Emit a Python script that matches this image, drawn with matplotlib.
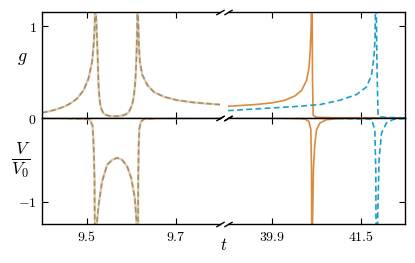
import matplotlib
matplotlib.use("Agg")
import matplotlib.pyplot as plt

plt.rcParams['mathtext.fontset'] = 'cm'
plt.rcParams['font.family'] = ['DejaVu Serif']

# ---------------- data ----------------
# left window: both series coincide
t_left_g = [9.400, 9.420, 9.4326, 9.450, 9.4627, 9.478, 9.4929, 9.504, 9.512, 9.5155,
            9.518, 9.5195, 9.5205, 9.5212, 9.5230, 9.5246, 9.5260, 9.5270, 9.5290, 9.5307,
            9.5340, 9.5380, 9.5450, 9.5530, 9.5685, 9.5830, 9.5900, 9.5948, 9.6020, 9.6055,
            9.6080, 9.6100, 9.6115, 9.6130, 9.6138, 9.6145, 9.6152, 9.6175, 9.6197, 9.6250,
            9.6365, 9.6510, 9.6740, 9.7040, 9.7420, 9.7800, 9.8000]
g_left = [0.058, 0.078, 0.095, 0.125, 0.157, 0.21, 0.30, 0.43, 0.61, 0.79,
          1.01, 1.6, 1.6, 1.10, 0.88, 0.68, 0.45, 0.32, 0.20, 0.14,
          0.085, 0.048, 0.030, 0.022, 0.019, 0.030, 0.045, 0.065, 0.14, 0.22,
          0.32, 0.45, 0.61, 0.85, 1.01, 1.6, 1.15, 0.79, 0.61, 0.47,
          0.357, 0.284, 0.23, 0.193, 0.168, 0.153, 0.146]

t_left_V = [9.400, 9.450, 9.490, 9.504, 9.508, 9.5133, 9.5155, 9.5175, 9.5190, 9.5205,
            9.5225, 9.5268, 9.5345, 9.5459, 9.5572, 9.5685, 9.5798, 9.5912, 9.6002, 9.6084,
            9.6125, 9.6140, 9.6150, 9.6160, 9.6170, 9.6185, 9.6220, 9.6290, 9.6600, 9.8000]
V_left = [-0.003, -0.005, -0.010, -0.015, -0.024, -0.10, -0.32, -0.72, -2.0, -2.0,
          -1.27, -1.04, -0.76, -0.56, -0.50, -0.476, -0.50, -0.58, -0.72, -0.96,
          -1.27, -2.0, -2.0, -0.72, -0.32, -0.125, -0.044, -0.012, -0.004, -0.001]

# right window: orange (solid) series
t_right_g_a = [39.10, 39.30, 39.588, 39.889, 40.129, 40.31, 40.431, 40.521, 40.562, 40.586,
               40.604, 40.615, 40.618, 40.628, 40.640, 40.70, 41.0, 42.3]
g_right_a = [0.128, 0.135, 0.146, 0.164, 0.193, 0.24, 0.30, 0.41, 0.54, 0.72,
             1.01, 1.6, 1.5, 0.40, 0.03, 0.008, 0.003, 0.001]
t_right_V_a = [39.10, 40.00, 40.40, 40.49, 40.562, 40.598, 40.610, 40.616, 40.622, 40.628,
               40.645, 40.671, 40.701, 40.761, 40.882, 41.12, 42.3]
V_right_a = [-0.001, -0.003, -0.008, -0.012, -0.04, -0.14, -0.62, -2.0, -2.0, -1.3,
             -0.6, -0.30, -0.14, -0.06, -0.02, -0.005, -0.001]

# right window: blue (dashed) series
t_right_g_b = [39.10, 39.50, 39.889, 40.40, 40.61, 40.761, 41.122, 41.423, 41.604, 41.694,
               41.736, 41.759, 41.772, 41.778, 41.795, 41.813, 41.85, 42.0, 42.3]
g_right_b = [0.080, 0.095, 0.109, 0.128, 0.139, 0.146, 0.193, 0.255, 0.338, 0.466,
             0.648, 0.866, 1.6, 1.3, 0.50, 0.03, 0.012, 0.005, 0.002]
t_right_V_b = [39.10, 41.00, 41.694, 41.754, 41.772, 41.781, 41.800, 41.803, 41.831, 41.875,
               41.965, 42.084, 42.3]
V_right_b = [-0.001, -0.004, -0.012, -0.14, -0.62, -2.0, -2.0, -1.3, -0.5, -0.18,
             -0.06, -0.017, -0.005]

xticks_left = [9.5, 9.7]
xticklabels_left = ['$9.5$', '$9.7$']
xticks_right = [39.9, 41.5]
xticklabels_right = ['$39.9$', '$41.5$']
yticks_g = [0, 1]
yticklabels_g = ['$0$', '$1$']
yticks_V = [-1]
yticklabels_V = ['$-1$']

xlim_left = (9.4, 9.8)
xlim_right = (39.1, 42.3)
ylim_g = (0, 1.156)
ylim_V = (-1.27, 0)

# ---------------- figure ----------------
W, H = 415, 263
fig = plt.figure(figsize=(W / 100, H / 100), dpi=100)

def frac(x0, y0, x1, y1):
    return [x0 / W, 1 - y1 / H, (x1 - x0) / W, (y1 - y0) / H]

axTL = fig.add_axes(frac(42.3, 11.7, 220, 118))
axTR = fig.add_axes(frac(228, 11.7, 405, 118))
axBL = fig.add_axes(frac(42.3, 118, 220, 224.3))
axBR = fig.add_axes(frac(228, 118, 405, 224.3))

c_or = '#dc8a3e'
c_bl = '#1a9fc8'
c_peach = '#f4c79e'
c_gg = '#889680'

axTL.plot(t_left_g, g_left, color=c_peach, lw=1.7, solid_joinstyle='round')
axTL.plot(t_left_g, g_left, color=c_gg, lw=1.1, ls=(0, (3.5, 2)))
axBL.plot(t_left_V, V_left, color=c_peach, lw=1.7)
axBL.plot(t_left_V, V_left, color=c_gg, lw=1.1, ls=(0, (3.5, 2)))

axTR.plot(t_right_g_a, g_right_a, color=c_or, lw=1.2)
axTR.plot(t_right_g_b, g_right_b, color=c_bl, lw=1.2, ls=(0, (3.5, 2)))
axBR.plot(t_right_V_a, V_right_a, color=c_or, lw=1.2)
axBR.plot(t_right_V_b, V_right_b, color=c_bl, lw=1.2, ls=(0, (3.5, 2)))

for ax in (axTL, axBL):
    ax.set_xlim(*xlim_left)
    ax.spines['right'].set_visible(False)
    ax.set_xticks(xticks_left)
    ax.tick_params(direction='in', length=4, width=0.8, top=True, bottom=True,
                   left=True, right=False, labelsize=10, pad=4)
for ax in (axTR, axBR):
    ax.set_xlim(*xlim_right)
    ax.spines['left'].set_visible(False)
    ax.set_xticks(xticks_right)
    ax.tick_params(direction='in', length=4, width=0.8, top=True, bottom=True,
                   left=False, right=True, labelleft=False, labelright=False,
                   labelsize=10, pad=4)
for ax in (axTL, axTR):
    ax.set_ylim(*ylim_g)
    ax.set_yticks(yticks_g)
    ax.tick_params(labelbottom=False)
for ax in (axBL, axBR):
    ax.set_ylim(*ylim_V)
    ax.set_yticks(yticks_V)

axTL.set_yticklabels(yticklabels_g)
axBL.set_yticklabels(yticklabels_V)
axBL.set_xticklabels(xticklabels_left)
axBR.set_xticklabels(xticklabels_right)

for ax in (axTL, axTR, axBL, axBR):
    for s in ax.spines.values():
        s.set_linewidth(1.0)

# break marks
mk = [(-1, -0.6), (1, 0.6)]
for ax in (axTL, axBL):
    ax.plot([1, 1], [0, 1], transform=ax.transAxes, ls='none', marker=mk,
            markersize=6, mew=1.0, color='k', clip_on=False)
for ax in (axTR, axBR):
    ax.plot([0, 0], [0, 1], transform=ax.transAxes, ls='none', marker=mk,
            markersize=6, mew=1.0, color='k', clip_on=False)

fig.text(22 / W, 1 - 58 / H, '$g$', fontsize=13, ha='center', va='center')
fig.text(21 / W, 1 - 160 / H, r'$\frac{V}{V_0}$', fontsize=18, ha='center', va='center')
fig.text(224 / W, 1 - 245 / H, '$t$', fontsize=12, ha='center', va='center')

fig.savefig('out.png', dpi=100)
